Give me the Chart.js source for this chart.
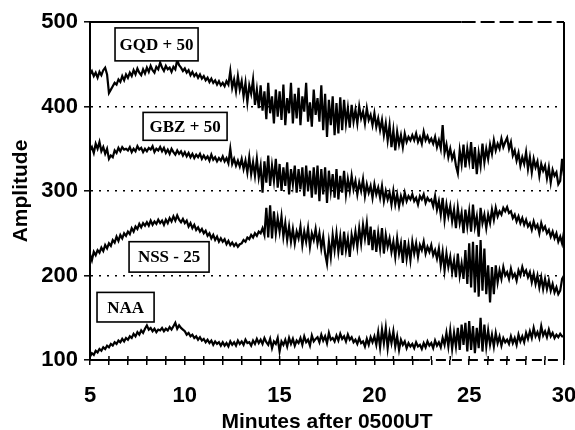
<!DOCTYPE html>
<html>
<head>
<meta charset="utf-8">
<script src="https://cdn.jsdelivr.net/npm/chart.js@4.4.1/dist/chart.umd.min.js"></script>
<style>
  html, body { margin: 0; padding: 0; background: #fff; }
  #wrap { width: 575px; height: 430px; }
</style>
</head>
<body>
<div id="wrap"><canvas id="ampChart" width="575" height="430"></canvas></div>
<script>
// sampling of the traces: one reading every 0.1 min from 5 to 30 min after 0500UT
const startMinute = 5;
const stepMinute = 0.1;

// GQD + 50
const gqd = [
  438,442,436,440,434,441,437,443,446,438,
  416,420,424,428,426,432,429,436,431,438,
  434,440,436,443,438,445,440,437,444,439,
  446,441,448,443,440,447,444,452,446,442,
  448,444,446,441,447,444,455,449,446,442,
  445,440,443,437,441,436,439,434,438,433,
  436,431,434,429,433,428,431,426,430,425,
  428,424,430,426,442,422,432,418,436,420,
  430,412,428,405,425,415,432,402,420,398,
  425,395,418,385,428,392,412,380,420,388,
  418,384,426,378,410,392,428,380,415,386,
  422,378,412,394,428,382,405,376,420,390,
  410,382,425,372,415,364,408,378,412,366,
  404,368,411,372,408,380,398,375,402,382,
  396,380,400,386,394,380,398,384,390,378,
  392,376,386,372,384,366,380,360,378,352,
  372,348,370,355,366,352,368,358,364,360,
  366,360,368,358,364,356,370,360,365,358,
  362,356,364,352,360,350,378,345,355,340,
  350,338,345,330,321,348,332,355,328,350,
  335,358,326,352,320,345,330,356,334,350,
  338,355,344,360,348,356,350,362,352,358,
  363,350,358,342,348,336,345,330,340,332,
  346,326,340,322,338,328,335,318,332,324,
  330,315,328,310,325,318,322,308,312,338,
  318
];

// GBZ + 50
const gbz = [
  348,352,345,356,350,358,347,352,344,350,
  338,342,340,348,345,351,347,352,349,350,
  348,352,346,350,347,353,349,351,346,350,
  347,351,349,353,346,350,348,352,347,351,
  345,349,344,350,346,343,348,344,347,342,
  346,341,345,340,344,339,343,340,344,338,
  342,338,341,336,343,337,340,335,339,336,
  341,335,339,333,350,332,338,330,336,329,
  338,326,336,322,340,320,334,318,338,316,
  330,298,335,310,342,306,330,312,338,304,
  332,300,328,306,334,296,326,308,330,298,
  326,302,328,294,330,300,324,292,328,296,
  330,288,326,296,328,286,324,300,320,292,
  326,290,318,298,324,296,314,300,318,302,
  312,296,310,300,314,294,308,298,306,292,
  308,296,304,292,306,288,300,290,298,284,
  300,284,296,282,294,286,298,288,294,290,
  296,288,292,284,294,290,296,286,292,288,
  290,282,294,278,288,272,292,266,284,270,
  282,264,278,256,280,262,274,250,278,258,
  276,252,284,258,270,246,280,262,272,256,
  272,262,278,266,280,270,276,272,280,276,
  281,274,276,268,272,264,270,262,268,260,
  266,258,262,254,264,256,260,250,262,254,
  258,250,254,246,252,244,250,240,246,238,
  252
];

// NSS - 25
const nss = [
  225,218,228,224,230,227,233,229,236,232,
  238,235,242,239,246,241,248,244,250,247,
  252,249,256,252,258,255,261,257,262,259,
  263,259,265,260,264,261,266,262,265,260,
  266,262,268,264,270,265,271,266,263,267,
  262,265,258,262,256,260,254,257,252,255,
  250,253,247,250,244,248,242,246,240,244,
  240,243,237,241,236,239,235,238,234,237,
  238,242,240,245,243,248,245,250,247,252,
  250,256,248,280,245,283,244,276,250,268,
  252,270,246,262,242,258,240,255,238,252,
  244,258,236,252,240,256,234,250,242,255,
  238,250,232,246,226,214,240,222,248,230,
  250,228,246,224,252,230,244,222,248,236,
  252,234,256,238,260,244,262,236,258,230,
  254,228,250,232,256,226,248,234,244,228,
  240,222,244,226,238,215,242,220,236,218,
  240,226,238,222,236,230,240,226,234,228,
  236,224,230,220,232,212,228,206,226,210,
  222,204,218,198,226,200,214,196,230,190,
  238,186,240,180,236,175,242,182,232,178,
  212,168,210,178,212,192,206,196,210,200,
  204,196,208,198,202,194,206,200,210,202,
  206,198,204,192,202,190,200,186,198,184,
  196,184,194,182,190,180,186,178,182,196,
  200
];

// NAA
const naa = [
  104,108,106,111,109,113,111,115,113,117,
  115,119,117,121,119,123,121,125,122,126,
  124,128,126,131,128,133,130,135,132,137,
  141,136,138,134,137,133,136,135,138,134,
  137,135,139,136,140,144,137,141,138,136,
  134,130,132,128,130,126,128,124,127,123,
  125,121,124,120,123,118,122,119,121,117,
  121,117,120,116,122,118,121,117,123,119,
  122,118,124,120,121,117,123,119,125,120,
  124,119,126,121,118,125,114,122,119,126,
  110,122,118,124,116,126,119,125,117,123,
  120,126,118,128,121,124,117,129,122,125,
  127,121,130,123,128,120,132,124,126,122,
  129,123,131,125,128,122,130,124,127,121,
  124,119,126,120,122,116,125,118,127,121,
  128,118,133,115,136,120,138,114,132,120,
  134,116,128,112,124,118,122,114,120,116,
  119,114,121,116,118,113,120,115,122,117,
  120,114,123,117,121,115,126,118,132,116,
  135,113,132,116,138,112,142,118,144,110,
  146,112,140,108,138,114,150,110,142,116,
  135,118,130,116,132,120,128,117,126,121,
  124,119,128,120,126,118,130,122,128,121,
  132,125,134,126,138,128,133,126,140,129,
  134,127,136,128,132,126,130,127,131,128,
  128
];

const seriesNames = ["GQD + 50", "GBZ + 50", "NSS - 25", "NAA"];
// label boxes in data units: [xFrom, xTo, yTop, yBottom]
const labelBoxes = [
  [6.32, 10.70, 493, 454],
  [7.80, 12.23, 393, 360],
  [7.06, 11.28, 240, 204],
  [5.37, 8.38, 180, 145]
];

const xTicks = [5, 10, 15, 20, 25, 30];
const yTicks = [100, 200, 300, 400, 500];

function toPoints(values) {
  return values.map((v, i) => ({ x: +(startMinute + i * stepMinute).toFixed(1), y: v }));
}

const boxPlugin = {
  id: "boxPlugin",
  afterDraw(chart) {
    const ctx = chart.ctx;
    const xs = chart.scales.x;
    const ys = chart.scales.y;
    const a = chart.chartArea;
    ctx.save();
    ctx.strokeStyle = "#000";
    ctx.lineWidth = 2;
    // frame: top, right and bottom (the scan goes dashed on the right-hand part)
    const topSplit = xs.getPixelForValue(24.6);
    const bottomSplit = xs.getPixelForValue(22.4);
    ctx.beginPath();
    ctx.moveTo(a.left, a.top);
    ctx.lineTo(topSplit, a.top);
    ctx.moveTo(a.left, a.bottom);
    ctx.lineTo(bottomSplit, a.bottom);
    ctx.moveTo(a.right, a.top);
    ctx.lineTo(a.right, a.bottom);
    ctx.stroke();
    ctx.setLineDash([14, 5]);
    ctx.beginPath();
    ctx.moveTo(topSplit, a.top);
    ctx.lineTo(a.right, a.top);
    ctx.stroke();
    ctx.setLineDash([10, 6]);
    ctx.beginPath();
    ctx.moveTo(bottomSplit, a.bottom);
    ctx.lineTo(a.right, a.bottom);
    ctx.stroke();
    ctx.setLineDash([]);
    // small ticks crossing the x axis
    ctx.lineWidth = 1.5;
    xs.ticks.forEach(t => {
      const px = xs.getPixelForValue(t.value);
      ctx.beginPath();
      ctx.moveTo(px, a.bottom);
      ctx.lineTo(px, a.bottom - 4);
      ctx.stroke();
    });
    // series label boxes
    ctx.font = "bold 17px 'Liberation Serif', 'DejaVu Serif', serif";
    ctx.textAlign = "center";
    ctx.textBaseline = "middle";
    labelBoxes.forEach((b, i) => {
      const x0 = xs.getPixelForValue(b[0]);
      const x1 = xs.getPixelForValue(b[1]);
      const y0 = ys.getPixelForValue(b[2]);
      const y1 = ys.getPixelForValue(b[3]);
      ctx.fillStyle = "#fff";
      ctx.fillRect(x0, y0, x1 - x0, y1 - y0);
      ctx.lineWidth = 1.6;
      ctx.strokeRect(x0, y0, x1 - x0, y1 - y0);
      ctx.fillStyle = "#000";
      ctx.fillText(seriesNames[i], (x0 + x1) / 2, (y0 + y1) / 2 + 1);
    });
    ctx.restore();
  }
};

const tickFont = { family: "'Liberation Sans', Arial, sans-serif", size: 22, weight: "bold" };

const traceStyle = {
  borderColor: "#000",
  borderWidth: 2.2,
  pointRadius: 0,
  tension: 0,
  fill: false
};

new Chart(document.getElementById("ampChart"), {
  type: "line",
  data: {
    datasets: [
      { label: seriesNames[0], data: toPoints(gqd), ...traceStyle },
      { label: seriesNames[1], data: toPoints(gbz), ...traceStyle },
      { label: seriesNames[2], data: toPoints(nss), ...traceStyle },
      { label: seriesNames[3], data: toPoints(naa), ...traceStyle }
    ]
  },
  options: {
    responsive: false,
    animation: false,
    layout: { padding: { left: 0, right: 11, top: 22, bottom: 0 } },
    plugins: { legend: { display: false }, tooltip: { enabled: false } },
    scales: {
      x: {
        type: "linear",
        min: 5,
        max: 30,
        afterFit: s => { s.height = 70; s.paddingLeft = 0; s.paddingRight = 0; },
        ticks: {
          stepSize: 1,
          autoSkip: false,
          maxRotation: 0,
          padding: 18,
          color: "#000",
          font: tickFont,
          callback: v => (xTicks.includes(v) ? String(v) : "")
        },
        grid: { drawOnChartArea: false, tickLength: 5, color: "#000", lineWidth: 1.5 },
        border: { display: false },
        title: {
          display: true,
          text: "Minutes after 0500UT",
          color: "#000",
          font: { family: "'Liberation Sans', Arial, sans-serif", size: 21, weight: "bold", lineHeight: 0.7 },
          padding: 0
        }
      },
      y: {
        min: 100,
        max: 500,
        afterFit: s => { s.width = 90; s.paddingTop = 0; s.paddingBottom = 0; },
        afterBuildTicks: s => { s.ticks = yTicks.map(v => ({ value: v })); },
        ticks: { padding: 6, color: "#000", font: tickFont },
        grid: {
          color: c => (c.tick && c.tick.value > 100 && c.tick.value < 500 ? "#000" : "rgba(0,0,0,0)"),
          lineWidth: 1.6,
          tickColor: "#000",
          tickLength: 6,
          tickWidth: 1.5,
          tickBorderDash: []
        },
        border: { display: true, color: "#000", width: 2, dash: [2, 6] },
        title: {
          display: true,
          text: "Amplitude",
          color: "#000",
          font: { family: "'Liberation Sans', Arial, sans-serif", size: 21, weight: "bold" },
          padding: { top: 9, bottom: 0 }
        }
      }
    }
  },
  plugins: [boxPlugin]
});
</script>
</body>
</html>
